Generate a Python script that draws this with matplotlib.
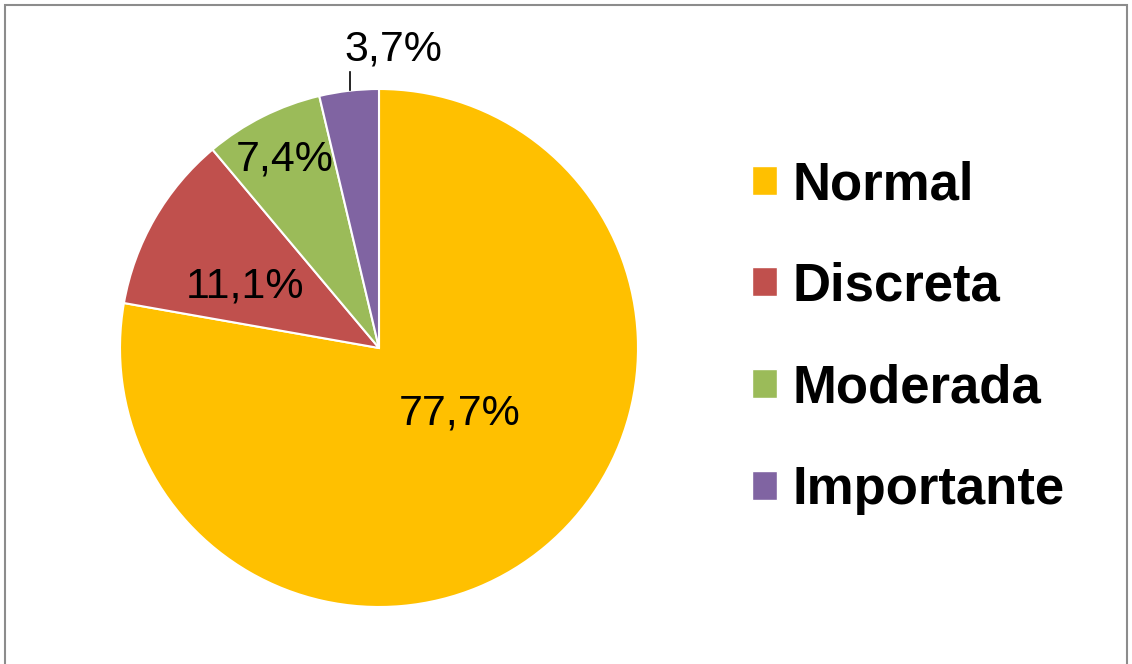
import matplotlib.pyplot as plt
from matplotlib.patches import Patch, Rectangle

plt.rcParams['font.family'] = ['Liberation Sans', 'DejaVu Sans']

categorias = ['Normal', 'Discreta', 'Moderada', 'Importante']
porcentajes = [77.7, 11.1, 7.4, 3.7]
etiquetas = ['77,7%', '11,1%', '7,4%', '3,7%']
colores = ['#FFC000', '#C0504D', '#9BBB59', '#8064A2']

fig = plt.figure(figsize=(11.32, 6.64), dpi=100)

# marco gris alrededor del gráfico
fig.patches.append(Rectangle((5 / 1132, -0.05), 1122 / 1132, 1.05 - 5 / 664,
                             transform=fig.transFigure, fill=False,
                             edgecolor='#8c8c8c', linewidth=1.5))

ax = fig.add_axes([(379 - 259) / 1132, (664 - 348 - 259) / 664, 518 / 1132, 518 / 664])
cuñas, _ = ax.pie(porcentajes, colors=colores, startangle=90, counterclock=False,
                  wedgeprops=dict(edgecolor='white', linewidth=1.5))
ax.set_xlim(-1, 1)
ax.set_ylim(-1, 1)
ax.set_aspect('equal')
ax.axis('off')

# posiciones de las etiquetas dentro de cada sector
pos_etiquetas = [(0.313, -0.251), (-0.517, 0.236), (-0.363, 0.726), (0.054, 1.151)]
for texto, (x, y) in zip(etiquetas, pos_etiquetas):
    ax.text(x, y, texto, ha='center', va='center', fontsize=31, clip_on=False)
# línea guía para la etiqueta pequeña
ax.plot([-0.112, -0.112], [1.066, 0.996], color='black', linewidth=1.2, clip_on=False)

handles = [Patch(facecolor=c, edgecolor='white') for c in colores]
fig.legend(handles, categorias, loc='upper left', bbox_to_anchor=(752 / 1132, 1 - 160 / 664),
           frameon=False, prop=dict(size=38, weight='bold'),
           handlelength=0.47, handleheight=0.47, handletextpad=0.3,
           labelspacing=0.98, borderpad=0, borderaxespad=0)

fig.savefig('out.png', dpi=100)
